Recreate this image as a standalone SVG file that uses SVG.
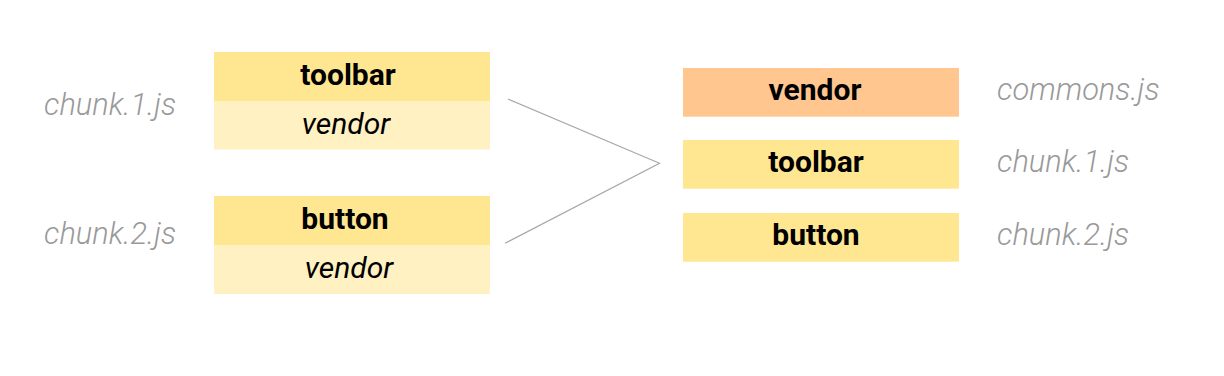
<svg xmlns="http://www.w3.org/2000/svg" width="1224" height="376" viewBox="0 0 1224 376">
<style>
.hd{fill:#FFE690}
.sub{fill:#FFF1C2}
.or{fill:#FFC68F}
.b{font-family:Roboto,"Liberation Sans",sans-serif;font-weight:bold;font-size:30px;fill:#000;text-anchor:middle}
.i{font-family:Roboto,"Liberation Sans",sans-serif;font-style:italic;font-size:30px;fill:#000;text-anchor:middle}
.g{font-family:Roboto,"Liberation Sans",sans-serif;font-style:italic;font-weight:300;font-size:30.8px;fill:#999999}
.c{fill:none;stroke:#A8A8A8;stroke-width:1.2}
</style>
<rect width="1224" height="376" fill="#fff"/>
<g id="chunk1-left">
<rect class="hd" x="214" y="52" width="276" height="49"/>
<rect class="sub" x="214" y="101" width="276" height="48.5"/>
<text class="b" x="348" y="85">toolbar</text>
<text class="i" x="346" y="133.5">vendor</text>
<text class="g" x="44" y="115">chunk.1.js</text>
</g>
<g id="chunk2-left">
<rect class="hd" x="214" y="196" width="276" height="49"/>
<rect class="sub" x="214" y="245" width="276" height="49"/>
<text class="b" x="345" y="228.5">button</text>
<text class="i" x="349" y="277.5">vendor</text>
<text class="g" x="44" y="243.5">chunk.2.js</text>
</g>
<g id="connectors">
<polyline class="c" points="508,99 659.5,163.3 505,243.3"/>
</g>
<g id="vendor-right">
<rect class="or" x="683" y="68" width="276" height="48.7"/>
<text class="b" x="815" y="100">vendor</text>
<text class="g" x="997" y="100">commons.js</text>
</g>
<g id="toolbar-right">
<rect class="hd" x="683" y="140" width="276" height="48.7"/>
<text class="b" x="816" y="172">toolbar</text>
<text class="g" x="997" y="172">chunk.1.js</text>
</g>
<g id="button-right">
<rect class="hd" x="683" y="213" width="276" height="48.7"/>
<text class="b" x="816" y="245">button</text>
<text class="g" x="997" y="245">chunk.2.js</text>
</g>
</svg>
